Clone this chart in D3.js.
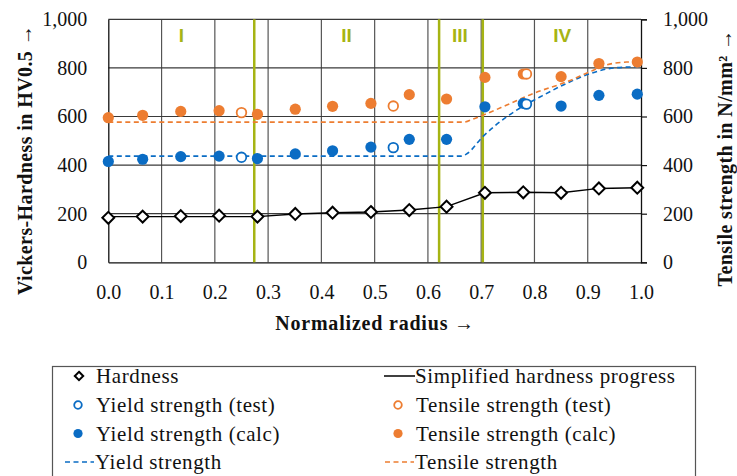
<!DOCTYPE html>
<html>
<head>
<meta charset="utf-8">
<script src="https://cdn.jsdelivr.net/npm/d3@7"></script>
<style>
  body { margin: 0; background: #fff; }
  svg { display: block; }
</style>
</head>
<body>
<svg id="chart" width="737" height="476"></svg>
<script>
// measurement positions (normalized radius)
const radius = [0, 0.0645, 0.136, 0.208, 0.28, 0.351, 0.421, 0.493, 0.565, 0.635, 0.707, 0.779, 0.85, 0.921, 0.993];
const hardness = [183, 188, 190, 192, 188, 199, 204, 207, 215, 229, 286, 288, 286, 304, 307];
const yieldCalc = [415, 424, 435, 437, 427, 446, 459, 474, 506, 506, 640, 654, 643, 687, 692];
const tensileCalc = [595, 605, 621, 624, 609, 630, 642, 654, 690, 672, 761, 775, 764, 818, 824];

const testRadius = [0.25, 0.535, 0.785];
const yieldTest = [432, 472, 651];
const tensileTest = [616, 643, 775];

const simpleX = [0, 0.28, 0.351, 0.421, 0.493, 0.565, 0.635, 0.707, 0.779, 0.85, 0.921, 0.993];
const simpleHardness = [188, 188, 199, 204, 207, 215, 229, 286, 288, 286, 304, 307];

const yieldLineX = [0, 0.663, 0.672, 0.704, 0.748, 0.773, 0.811, 0.86, 0.904, 0.95, 1.0];
const yieldLineY = [437, 437, 445, 519, 599, 635, 681, 736, 776, 800, 805];
const tensileLineX = [0, 0.667, 0.685, 0.704, 0.748, 0.798, 0.861, 0.904, 0.935, 0.973, 1.0];
const tensileLineY = [577, 577, 590, 606, 647, 695, 743, 784, 812, 824, 825];

const zoneBounds = [0.274, 0.621, 0.703];
const zoneNames = ["I", "II", "III", "IV"];
const zoneLabelX = [0.137, 0.447, 0.66, 0.852];

const xTicks = [0, 0.1, 0.2, 0.3, 0.4, 0.5, 0.6, 0.7, 0.8, 0.9, 1.0];
const yTicks = [0, 200, 400, 600, 800, 1000];

const blue = "#0a6cc4", orange = "#ed7d31", olive = "#a6b414";
const serif = "'Liberation Serif', 'Times New Roman', serif";

const svg = d3.select("#chart");
const plotLeft = 108.3, plotRight = 641, plotTop = 19.3, plotBottom = 262.3;

const x = d3.scaleLinear().domain([0, 1]).range([plotLeft, plotRight]);
const y = d3.scaleLinear().domain([0, 1000]).range([plotBottom, plotTop]);

// grid
const grid = svg.append("g");
grid.selectAll(".vg").data(xTicks.slice(1, -1)).enter().append("line")
  .attr("x1", d => x(d)).attr("x2", d => x(d))
  .attr("y1", plotTop).attr("y2", plotBottom)
  .attr("stroke", "#555").attr("stroke-width", 1.2);
grid.selectAll(".hg").data(yTicks.slice(1)).enter().append("line")
  .attr("x1", plotLeft).attr("x2", plotRight)
  .attr("y1", d => y(d)).attr("y2", d => y(d))
  .attr("stroke", "#3a3a3a").attr("stroke-width", 1.2);

// axes
const fmt = d3.format(",");
const leftAxis = svg.append("g").attr("transform", `translate(${plotLeft},0)`)
  .call(d3.axisLeft(y).tickValues(yTicks).tickFormat(fmt).tickSize(0).tickPadding(21));
const rightAxis = svg.append("g").attr("transform", `translate(${plotRight},0)`)
  .call(d3.axisRight(y).tickValues(yTicks).tickFormat(fmt).tickSize(6).tickPadding(16));
const bottomAxis = svg.append("g").attr("transform", `translate(0,${plotBottom})`)
  .call(d3.axisBottom(x).tickValues(xTicks).tickFormat(d3.format(".1f")).tickSize(0).tickPadding(23));

[leftAxis, rightAxis, bottomAxis].forEach(a => {
  a.attr("font-family", serif);
  a.select(".domain").attr("stroke", "#111").attr("stroke-width", 1.3);
  a.selectAll(".tick line").attr("stroke", "#111").attr("stroke-width", 1.2);
  a.selectAll("text").attr("font-family", serif).attr("font-size", 20).attr("fill", "#111");
});

// zone boundaries
svg.selectAll(".zone").data(zoneBounds).enter().append("line")
  .attr("x1", d => x(d)).attr("x2", d => x(d))
  .attr("y1", plotTop).attr("y2", plotBottom)
  .attr("stroke", olive).attr("stroke-width", 2.5);

svg.selectAll(".zlabel").data(zoneNames).enter().append("text")
  .attr("x", (d, i) => x(zoneLabelX[i])).attr("y", 42)
  .attr("text-anchor", "middle")
  .attr("font-family", "'Liberation Sans', Arial, sans-serif")
  .attr("font-weight", "bold").attr("font-size", 19)
  .attr("fill", olive).text(d => d);

// dashed model lines
const line = d3.line().curve(d3.curveMonotoneX);
svg.append("path")
  .attr("d", line(yieldLineX.map((d, i) => [x(d), y(yieldLineY[i])])))
  .attr("fill", "none").attr("stroke", blue).attr("stroke-width", 1.6)
  .attr("stroke-dasharray", "5,3.5");
svg.append("path")
  .attr("d", line(tensileLineX.map((d, i) => [x(d), y(tensileLineY[i])])))
  .attr("fill", "none").attr("stroke", orange).attr("stroke-width", 1.6)
  .attr("stroke-dasharray", "5,3.5");

// simplified hardness progress
svg.append("path")
  .attr("d", d3.line()(simpleX.map((d, i) => [x(d), y(simpleHardness[i])])))
  .attr("fill", "none").attr("stroke", "#000").attr("stroke-width", 1.4);

// calc points
svg.selectAll(".yc").data(yieldCalc).enter().append("circle")
  .attr("cx", (d, i) => x(radius[i])).attr("cy", d => y(d)).attr("r", 5.6)
  .attr("fill", blue);
svg.selectAll(".tc").data(tensileCalc).enter().append("circle")
  .attr("cx", (d, i) => x(radius[i])).attr("cy", d => y(d)).attr("r", 5.6)
  .attr("fill", orange);

// test points
svg.selectAll(".yt").data(yieldTest).enter().append("circle")
  .attr("cx", (d, i) => x(testRadius[i])).attr("cy", d => y(d)).attr("r", 4.8)
  .attr("fill", "#fff").attr("stroke", blue).attr("stroke-width", 1.8);
svg.selectAll(".tt").data(tensileTest).enter().append("circle")
  .attr("cx", (d, i) => x(testRadius[i])).attr("cy", d => y(d)).attr("r", 4.8)
  .attr("fill", "#fff").attr("stroke", orange).attr("stroke-width", 1.8);

// hardness diamonds
const diamond = d3.symbol().type(d3.symbolDiamond2).size(90);
svg.selectAll(".hd").data(hardness).enter().append("path")
  .attr("transform", (d, i) => `translate(${x(radius[i])},${y(d)})`)
  .attr("d", diamond)
  .attr("fill", "#fff").attr("stroke", "#000").attr("stroke-width", 2);

// axis titles
const title = (t, tx, ty, rot) => svg.append("text")
  .attr("transform", `translate(${tx},${ty}) rotate(${rot})`)
  .attr("text-anchor", "middle")
  .attr("font-family", serif).attr("font-weight", "bold")
  .attr("font-size", 20).attr("letter-spacing", 0.4)
  .attr("fill", "#111").text(t);
title("Vickers-Hardness in HV0.5 →", 32, 160, -90);
title("Tensile strength in N/mm² →", 732, 158, -90);
title("Normalized radius →", 375, 330, 0).attr("letter-spacing", 0.8);

// legend
const legend = svg.append("g");
legend.append("rect")
  .attr("x", 52.5).attr("y", 366.5).attr("width", 643).attr("height", 120)
  .attr("fill", "#fff").attr("stroke", "#555").attr("stroke-width", 1.2);

const legendItems = [
  { label: "Hardness", type: "diamond", col: 0, row: 0 },
  { label: "Simplified hardness progress", type: "line", col: 1, row: 0 },
  { label: "Yield strength (test)", type: "open", color: blue, col: 0, row: 1 },
  { label: "Tensile strength (test)", type: "open", color: orange, col: 1, row: 1 },
  { label: "Yield strength (calc)", type: "dot", color: blue, col: 0, row: 2 },
  { label: "Tensile strength (calc)", type: "dot", color: orange, col: 1, row: 2 },
  { label: "Yield strength", type: "dash", color: blue, col: 0, row: 3 },
  { label: "Tensile strength", type: "dash", color: orange, col: 1, row: 3 }
];
const colX = [64, 384];
const rowY = [376, 405, 433.5, 462];

legendItems.forEach(it => {
  const g = legend.append("g").attr("transform", `translate(${colX[it.col]},${rowY[it.row]})`);
  if (it.type === "diamond") {
    g.append("path").attr("transform", "translate(15,0)")
      .attr("d", d3.symbol().type(d3.symbolDiamond2).size(45))
      .attr("fill", "#fff").attr("stroke", "#000").attr("stroke-width", 2);
  } else if (it.type === "line") {
    g.append("line").attr("x1", 0).attr("x2", 31).attr("y1", 0).attr("y2", 0)
      .attr("stroke", "#000").attr("stroke-width", 1.5);
  } else if (it.type === "open") {
    g.append("circle").attr("cx", 14).attr("r", 3.8)
      .attr("fill", "#fff").attr("stroke", it.color).attr("stroke-width", 1.8);
  } else if (it.type === "dot") {
    g.append("circle").attr("cx", 14).attr("r", 4.6).attr("fill", it.color);
  } else {
    g.append("line").attr("x1", 1).attr("x2", 30).attr("y1", 0).attr("y2", 0)
      .attr("stroke", it.color).attr("stroke-width", 1.6).attr("stroke-dasharray", "5,3.5");
  }
  g.append("text").attr("x", it.type === "line" || it.type === "dash" ? 31 : 32).attr("y", 7)
    .attr("font-family", serif).attr("font-size", 21).attr("letter-spacing", 0.6)
    .attr("fill", "#111").text(it.label);
});
</script>
</body>
</html>
